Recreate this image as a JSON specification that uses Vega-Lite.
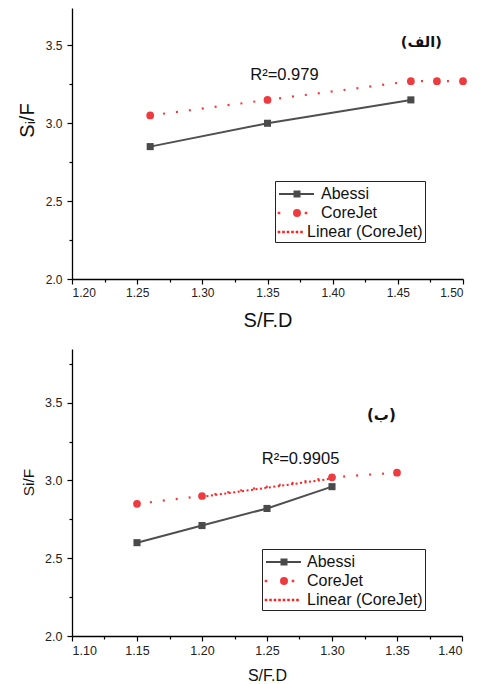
{
  "$schema": "https://vega.github.io/schema/vega-lite/v6.json",
  "background": "white",
  "padding": {"left": 17, "top": 8, "right": 16, "bottom": 2},
  "spacing": 19,
  "config": {
    "view": {"stroke": null},
    "font": "Liberation Sans",
    "axis": {"grid": false, "domainColor": "#000", "tickColor": "#000", "labelColor": "#222", "labelFont": "Liberation Sans", "titleFont": "Liberation Sans", "titleFontWeight": "normal", "titleColor": "#111", "domainWidth": 1.3, "tickWidth": 1.2}
  },
  "datasets": {
    "top": [
      {"x": 1.26, "y": 2.85, "series": "Abessi"},
      {"x": 1.35, "y": 3.00, "series": "Abessi"},
      {"x": 1.46, "y": 3.15, "series": "Abessi"},
      {"x": 1.26, "y": 3.05, "series": "CoreJet"},
      {"x": 1.35, "y": 3.15, "series": "CoreJet"},
      {"x": 1.46, "y": 3.27, "series": "CoreJet"},
      {"x": 1.48, "y": 3.27, "series": "CoreJet"},
      {"x": 1.50, "y": 3.27, "series": "CoreJet"}
    ],
    "topText": [
      {"x": 1.363, "y": 3.313, "label": "R²=0.979", "kind": "r2"},
      {"x": 1.468, "y": 3.517, "label": "(الف)", "kind": "tag"}
    ],
    "bottom": [
      {"x": 1.15, "y": 2.60, "series": "Abessi"},
      {"x": 1.20, "y": 2.71, "series": "Abessi"},
      {"x": 1.25, "y": 2.82, "series": "Abessi"},
      {"x": 1.30, "y": 2.96, "series": "Abessi"},
      {"x": 1.15, "y": 2.85, "series": "CoreJet"},
      {"x": 1.20, "y": 2.90, "series": "CoreJet"},
      {"x": 1.30, "y": 3.02, "series": "CoreJet"},
      {"x": 1.35, "y": 3.05, "series": "CoreJet"},
      {"x": 1.20, "y": 2.895, "series": "Linear (CoreJet)"},
      {"x": 1.30, "y": 3.012, "series": "Linear (CoreJet)"}
    ],
    "bottomText": [
      {"x": 1.2758, "y": 3.139, "label": "R²=0.9905", "kind": "r2"},
      {"x": 1.338, "y": 3.423, "label": "(ب)", "kind": "tag"}
    ]
  },
  "vconcat": [
    {
      "width": 391,
      "height": 271,
      "resolve": {"axis": {"x": "independent", "y": "independent"}},
      "layer": [
        {
          "data": {"name": "top"},
          "transform": [{"filter": "datum.series == 'CoreJet'"}],
          "mark": {"type": "line", "color": "#ee3b3f", "strokeWidth": 2.2, "strokeDash": [2, 11]},
          "encoding": {
            "x": {"field": "x", "type": "quantitative", "scale": {"domain": [1.2, 1.5], "nice": false, "zero": false},
              "axis": {"orient": "bottom", "title": "S/F.D", "values": [1.2, 1.25, 1.3, 1.35, 1.4, 1.45, 1.5], "format": ".2f", "tickSize": 5, "labelFontSize": 12, "labelPadding": 3, "titleFontSize": 20, "titlePadding": 12}},
            "y": {"field": "y", "type": "quantitative", "scale": {"domain": [2, 3.74], "nice": false, "zero": false},
              "axis": {"orient": "left", "title": "Sᵢ/F", "values": [2, 2.5, 3, 3.5], "format": ".1f", "tickSize": 5, "labelFontSize": 12, "labelPadding": 5, "titleFontSize": 20, "titlePadding": 8, "titleY": 112}}
          }
        },
        {
          "data": {"name": "top"},
          "transform": [{"filter": "datum.series == 'Abessi'"}],
          "mark": {"type": "line", "color": "#4f4f4f", "strokeWidth": 2},
          "encoding": {
            "x": {"field": "x", "type": "quantitative", "axis": {"orient": "bottom", "title": null, "labels": false, "domain": false, "values": [1.225, 1.275, 1.325, 1.375, 1.425, 1.475], "tickSize": 3}},
            "y": {"field": "y", "type": "quantitative", "axis": {"orient": "left", "title": null, "labels": false, "domain": false, "values": [2.25, 2.75, 3.25], "tickSize": 3}}
          }
        },
        {
          "data": {"name": "top"},
          "transform": [{"filter": "datum.series == 'Abessi'"}],
          "mark": {"type": "point", "shape": "square", "filled": true, "color": "#4a4a4a", "size": 50, "opacity": 1},
          "encoding": {
            "x": {"field": "x", "type": "quantitative", "axis": null},
            "y": {"field": "y", "type": "quantitative", "axis": null}
          }
        },
        {
          "data": {"name": "top"},
          "transform": [{"filter": "datum.series == 'CoreJet'"}],
          "mark": {"type": "point", "shape": "circle", "filled": true, "color": "#ee3b3f", "size": 60, "opacity": 1},
          "encoding": {
            "x": {"field": "x", "type": "quantitative", "axis": null},
            "y": {"field": "y", "type": "quantitative", "axis": null}
          }
        },
        {
          "data": {"name": "topText"},
          "mark": {"type": "text", "font": "Liberation Sans", "fontSize": 16.5, "color": "#111"},
          "transform": [{"filter": "datum.kind == 'r2'"}],
          "encoding": {
            "x": {"field": "x", "type": "quantitative", "axis": null},
            "y": {"field": "y", "type": "quantitative", "axis": null},
            "text": {"field": "label"}
          }
        },
        {
          "data": {"name": "topText"},
          "mark": {"type": "text", "font": "DejaVu Sans", "fontSize": 14.5, "fontWeight": "bold", "color": "#111"},
          "transform": [{"filter": "datum.kind == 'tag'"}],
          "encoding": {
            "x": {"field": "x", "type": "quantitative", "axis": null},
            "y": {"field": "y", "type": "quantitative", "axis": null},
            "text": {"field": "label"}
          }
        },
        {
          "data": {"name": "top"},
          "transform": [{"filter": "false"}],
          "mark": {"type": "point", "filled": true, "opacity": 1},
          "encoding": {
            "x": {"field": "x", "type": "quantitative", "axis": null},
            "y": {"field": "y", "type": "quantitative", "axis": null},
            "fill": {"field": "series", "type": "nominal",
              "scale": {"domain": ["Abessi", "CoreJet", "Linear (CoreJet)"], "range": ["#4a4a4a", "#ee3b3f", "#ff2020"]},
              "legend": {"title": null, "orient": "none", "legendX": 203, "legendY": 173, "strokeColor": "#222", "fillColor": "white", "padding": 2, "labelFontSize": 16, "labelFont": "Liberation Sans", "labelColor": "#111", "symbolSize": 400, "symbolStrokeWidth": 2, "symbolOpacity": 1, "rowPadding": 0, "labelOffset": 8, "labelLimit": 300,
                "encode": {"labels": {"update": {"dx": {"signal": "datum.value === 'Linear (CoreJet)' ? 0 : 14"}}}}}},
            "stroke": {"field": "series", "type": "nominal",
              "scale": {"domain": ["Abessi", "CoreJet", "Linear (CoreJet)"], "range": ["#4a4a4a", "#ee3b3f", "#ff2020"]},
              "legend": {"title": null, "orient": "none", "legendX": 203, "legendY": 173, "strokeColor": "#222", "fillColor": "white", "padding": 2, "labelFontSize": 16, "labelFont": "Liberation Sans", "labelColor": "#111", "symbolSize": 400, "symbolStrokeWidth": 2, "symbolOpacity": 1, "rowPadding": 0, "labelOffset": 8, "labelLimit": 300,
                "encode": {"labels": {"update": {"dx": {"signal": "datum.value === 'Linear (CoreJet)' ? 0 : 14"}}}}}},
            "shape": {"field": "series", "type": "nominal",
              "scale": {"domain": ["Abessi", "CoreJet", "Linear (CoreJet)"], "range": [
                "M-0.9,0H2.6M0.65,-0.25H1.15V0.25H0.65Z",
                "M-0.93,-0.03H-0.87V0.03H-0.93ZM1.77,-0.03H1.83V0.03H1.77ZM1.2,0A0.3,0.3 0 1,1 0.6,0A0.3,0.3 0 1,1 1.2,0Z",
                "M-0.93,-0.03H-0.87V0.03H-0.93ZM-0.48,-0.03H-0.42V0.03H-0.48ZM-0.03,-0.03H0.03V0.03H-0.03ZM0.42,-0.03H0.48V0.03H0.42ZM0.87,-0.03H0.93V0.03H0.87ZM1.32,-0.03H1.38V0.03H1.32Z"
              ]},
              "legend": {"title": null, "orient": "none", "legendX": 203, "legendY": 173, "strokeColor": "#222", "fillColor": "white", "padding": 2, "labelFontSize": 16, "labelFont": "Liberation Sans", "labelColor": "#111", "symbolSize": 400, "symbolStrokeWidth": 2, "symbolOpacity": 1, "rowPadding": 0, "labelOffset": 8, "labelLimit": 300,
                "encode": {"labels": {"update": {"dx": {"signal": "datum.value === 'Linear (CoreJet)' ? 0 : 14"}}}}}}
          }
        }
      ]
    },
    {
      "width": 390,
      "height": 287,
      "resolve": {"axis": {"x": "independent", "y": "independent"}},
      "layer": [
        {
          "data": {"name": "bottom"},
          "transform": [{"filter": "datum.series == 'CoreJet'"}],
          "mark": {"type": "line", "color": "#ee3b3f", "strokeWidth": 2.2, "strokeDash": [2, 11]},
          "encoding": {
            "x": {"field": "x", "type": "quantitative", "scale": {"domain": [1.1, 1.4], "nice": false, "zero": false},
              "axis": {"orient": "bottom", "title": "S/F.D", "values": [1.1, 1.15, 1.2, 1.25, 1.3, 1.35, 1.4], "format": ".2f", "tickSize": 5, "labelFontSize": 12.5, "labelPadding": 3, "titleFontSize": 16, "titlePadding": 11}},
            "y": {"field": "y", "type": "quantitative", "scale": {"domain": [2, 3.845], "nice": false, "zero": false},
              "axis": {"orient": "left", "title": "Si/F", "values": [2, 2.5, 3, 3.5], "format": ".1f", "tickSize": 5, "labelFontSize": 12.5, "labelPadding": 5, "titleFontSize": 15.5, "titlePadding": 8, "titleY": 133}}
          }
        },
        {
          "data": {"name": "bottom"},
          "transform": [{"filter": "datum.series == 'Linear (CoreJet)'"}],
          "mark": {"type": "line", "color": "#ff2020", "strokeWidth": 2, "strokeDash": [2, 2.5]},
          "encoding": {
            "x": {"field": "x", "type": "quantitative", "axis": null},
            "y": {"field": "y", "type": "quantitative", "axis": null}
          }
        },
        {
          "data": {"name": "bottom"},
          "transform": [{"filter": "datum.series == 'Abessi'"}],
          "mark": {"type": "line", "color": "#4f4f4f", "strokeWidth": 2},
          "encoding": {
            "x": {"field": "x", "type": "quantitative", "axis": {"orient": "bottom", "title": null, "labels": false, "domain": false, "values": [1.125, 1.175, 1.225, 1.275, 1.325, 1.375], "tickSize": 3}},
            "y": {"field": "y", "type": "quantitative", "axis": {"orient": "left", "title": null, "labels": false, "domain": false, "values": [2.25, 2.75, 3.25, 3.75], "tickSize": 3}}
          }
        },
        {
          "data": {"name": "bottom"},
          "transform": [{"filter": "datum.series == 'Abessi'"}],
          "mark": {"type": "point", "shape": "square", "filled": true, "color": "#4a4a4a", "size": 50, "opacity": 1},
          "encoding": {
            "x": {"field": "x", "type": "quantitative", "axis": null},
            "y": {"field": "y", "type": "quantitative", "axis": null}
          }
        },
        {
          "data": {"name": "bottom"},
          "transform": [{"filter": "datum.series == 'CoreJet'"}],
          "mark": {"type": "point", "shape": "circle", "filled": true, "color": "#ee3b3f", "size": 60, "opacity": 1},
          "encoding": {
            "x": {"field": "x", "type": "quantitative", "axis": null},
            "y": {"field": "y", "type": "quantitative", "axis": null}
          }
        },
        {
          "data": {"name": "bottomText"},
          "mark": {"type": "text", "font": "Liberation Sans", "fontSize": 16.5, "color": "#111"},
          "transform": [{"filter": "datum.kind == 'r2'"}],
          "encoding": {
            "x": {"field": "x", "type": "quantitative", "axis": null},
            "y": {"field": "y", "type": "quantitative", "axis": null},
            "text": {"field": "label"}
          }
        },
        {
          "data": {"name": "bottomText"},
          "mark": {"type": "text", "font": "DejaVu Sans", "fontSize": 15, "fontWeight": "bold", "color": "#111"},
          "transform": [{"filter": "datum.kind == 'tag'"}],
          "encoding": {
            "x": {"field": "x", "type": "quantitative", "axis": null},
            "y": {"field": "y", "type": "quantitative", "axis": null},
            "text": {"field": "label"}
          }
        },
        {
          "data": {"name": "bottom"},
          "transform": [{"filter": "false"}],
          "mark": {"type": "point", "filled": true, "opacity": 1},
          "encoding": {
            "x": {"field": "x", "type": "quantitative", "axis": null},
            "y": {"field": "y", "type": "quantitative", "axis": null},
            "fill": {"field": "series", "type": "nominal",
              "scale": {"domain": ["Abessi", "CoreJet", "Linear (CoreJet)"], "range": ["#4a4a4a", "#ee3b3f", "#ff2020"]},
              "legend": {"title": null, "orient": "none", "legendX": 190, "legendY": 200, "strokeColor": "#222", "fillColor": "white", "padding": 2, "labelFontSize": 16, "labelFont": "Liberation Sans", "labelColor": "#111", "symbolSize": 400, "symbolStrokeWidth": 2, "symbolOpacity": 1, "rowPadding": 0, "labelOffset": 21, "labelLimit": 300}},
            "stroke": {"field": "series", "type": "nominal",
              "scale": {"domain": ["Abessi", "CoreJet", "Linear (CoreJet)"], "range": ["#4a4a4a", "#ee3b3f", "#ff2020"]},
              "legend": {"title": null, "orient": "none", "legendX": 190, "legendY": 200, "strokeColor": "#222", "fillColor": "white", "padding": 2, "labelFontSize": 16, "labelFont": "Liberation Sans", "labelColor": "#111", "symbolSize": 400, "symbolStrokeWidth": 2, "symbolOpacity": 1, "rowPadding": 0, "labelOffset": 21, "labelLimit": 300}},
            "shape": {"field": "series", "type": "nominal",
              "scale": {"domain": ["Abessi", "CoreJet", "Linear (CoreJet)"], "range": [
                "M-0.9,0H2.6M0.65,-0.25H1.15V0.25H0.65Z",
                "M-0.93,-0.03H-0.87V0.03H-0.93ZM1.77,-0.03H1.83V0.03H1.77ZM1.2,0A0.3,0.3 0 1,1 0.6,0A0.3,0.3 0 1,1 1.2,0Z",
                "M-0.93,-0.03H-0.87V0.03H-0.93ZM-0.48,-0.03H-0.42V0.03H-0.48ZM-0.03,-0.03H0.03V0.03H-0.03ZM0.42,-0.03H0.48V0.03H0.42ZM0.87,-0.03H0.93V0.03H0.87ZM1.32,-0.03H1.38V0.03H1.32ZM1.77,-0.03H1.83V0.03H1.77ZM2.22,-0.03H2.28V0.03H2.22Z"
              ]},
              "legend": {"title": null, "orient": "none", "legendX": 190, "legendY": 200, "strokeColor": "#222", "fillColor": "white", "padding": 2, "labelFontSize": 16, "labelFont": "Liberation Sans", "labelColor": "#111", "symbolSize": 400, "symbolStrokeWidth": 2, "symbolOpacity": 1, "rowPadding": 0, "labelOffset": 21, "labelLimit": 300}}
          }
        }
      ]
    }
  ],
  "resolve": {"scale": {"x": "independent", "y": "independent", "fill": "independent", "stroke": "independent", "shape": "independent"}, "legend": {"fill": "independent", "stroke": "independent", "shape": "independent"}}
}
